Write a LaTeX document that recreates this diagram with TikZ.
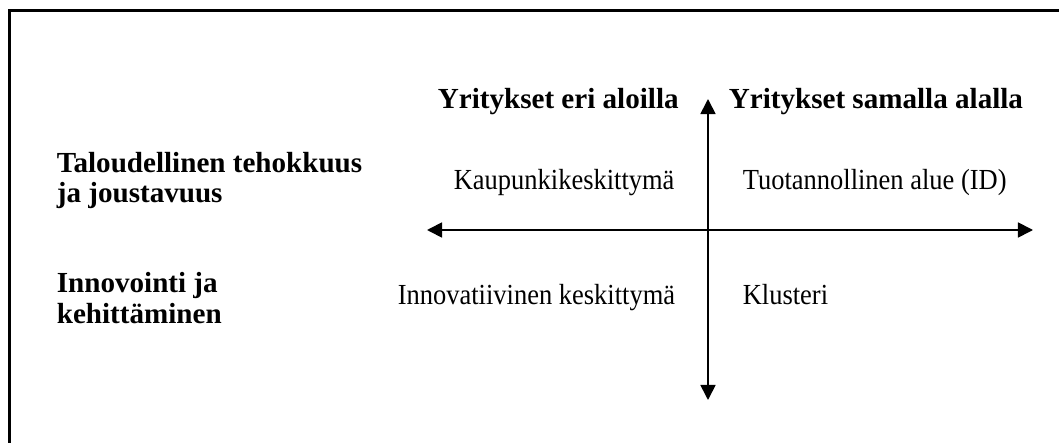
\documentclass[tikz,border=0pt]{standalone}
\usepackage{fontspec}
\setmainfont{Liberation Serif}
\usetikzlibrary{arrows.meta}
\tikzset{every picture/.style={line width=0.7pt}}
\newcommand{\narrow}[1]{\scalebox{0.91}[1]{#1}}
\tikzset{
  head/.style={anchor=base west,inner sep=0pt,font=\fontsize{12}{12.4}\selectfont\bfseries,align=left},
  cell/.style={anchor=base west,inner sep=0pt,font=\fontsize{12}{12.4}\selectfont},
  axis/.style={{Triangle[length=6.2pt,width=6.2pt]}-{Triangle[length=6.2pt,width=6.2pt]}}
}

\begin{document}
\begin{tikzpicture}[x=0.0145cm,y=-0.0145cm]
  \useasboundingbox (0,0) rectangle (1059,443);
  \clip (0,0) rectangle (1059,443);
    \draw[line width=1pt] (9.5,10.5) rectangle (1080,470);

    \coordinate (left) at (427,230);
    \coordinate (right) at (1033,230);
    \coordinate (top) at (708,99);
    \coordinate (bottom) at (708,400);
    \draw[axis] (left) -- (right);
    \draw[axis] (top) -- (bottom);

    \path (437,109) node[head] (eri) {Yritykset eri aloilla};
    \path (728,109) node[head] (sama) {Yritykset samalla alalla};
    % base is the last line here
    \path (56,203) node[head] (talous) {Taloudellinen tehokkuus\\ja joustavuus};
    \path (56,323) node[head] (innov) {Innovointi ja\\kehittäminen};

    \path (453,190) node[cell] (kaupunki) {\narrow{Kaupunkikeskittymä}};
    \path (742,190) node[cell] (ID) {\narrow{Tuotannollinen alue (ID)}};
    \path (397,305) node[cell] (keskitt) {\narrow{Innovatiivinen keskittymä}};
    \path (742,305) node[cell] (klusteri) {\narrow{Klusteri}};
  \end{tikzpicture}
\end{document}
